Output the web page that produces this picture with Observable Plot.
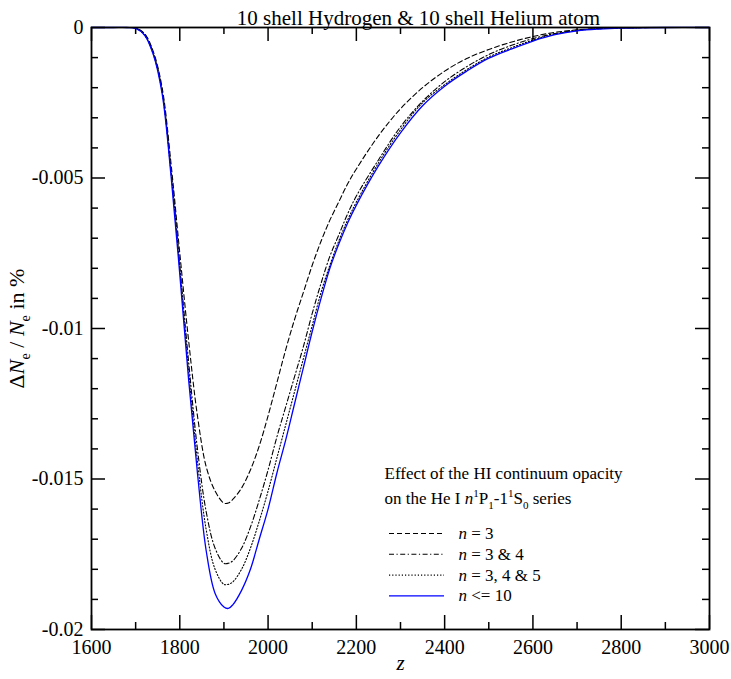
<!DOCTYPE html>
<html><head><meta charset="utf-8">
<script src="https://cdn.jsdelivr.net/npm/d3@7"></script>
<script src="https://cdn.jsdelivr.net/npm/@observablehq/plot@0.6"></script>
<style>body{margin:0;background:#fff;} svg{display:block;} svg text, svg tspan{font-family:'Liberation Serif','Times New Roman',serif !important; font-variant:normal !important;}</style>
</head><body><div id="chart"></div>
<script>
const zValues = [1600,1650,1680,1700,1720,1740,1760,1780,1800,1820,1840,1860,1880,1900,1910,1920,1940,1960,1980,2000,2020,2040,2060,2080,2100,2120,2140,2160,2180,2200,2250,2300,2350,2400,2450,2500,2550,2600,2650,2700,2750,2800,2900,3000];
const n3 = [0,0,0,-0.00002,-0.0002,-0.0008,-0.0020,-0.0045,-0.0075,-0.0104,-0.0129,-0.0146,-0.0154,-0.0158,-0.0158,-0.01568,-0.0153,-0.0147,-0.0139,-0.0129,-0.0118,-0.0107,-0.0097,-0.0088,-0.0079,-0.0071,-0.0064,-0.0058,-0.0052,-0.0047,-0.0036,-0.0027,-0.0020,-0.00145,-0.00103,-0.00073,-0.00049,-0.0003,-0.00016,-0.00008,-0.00003,-0.00001,0,0];
const n34 = [0,0,0,-0.00002,-0.00022,-0.00085,-0.0021,-0.0047,-0.0079,-0.0111,-0.0140,-0.0161,-0.0173,-0.0178,-0.0178,-0.01772,-0.0173,-0.0166,-0.0157,-0.0147,-0.0136,-0.0126,-0.0116,-0.0106,-0.0095,-0.0085,-0.0076,-0.0069,-0.0062,-0.0056,-0.0044,-0.0033,-0.00245,-0.0018,-0.0013,-0.0009,-0.0006,-0.00037,-0.0002,-0.00009,-0.00004,-0.00001,0,0];
const n345 = [0,0,0,-0.00002,-0.00025,-0.00088,-0.00215,-0.0048,-0.0080,-0.0114,-0.0144,-0.0167,-0.0180,-0.0185,-0.0185,-0.01842,-0.0180,-0.0173,-0.0164,-0.0154,-0.0143,-0.0132,-0.0121,-0.0110,-0.0099,-0.0088,-0.0079,-0.0071,-0.0064,-0.0058,-0.0045,-0.0034,-0.0025,-0.0019,-0.0014,-0.00098,-0.00068,-0.00042,-0.00022,-0.0001,-0.00004,-0.00001,0,0];
const n10 = [0,0,0,-0.00003,-0.00025,-0.0009,-0.0022,-0.0049,-0.0082,-0.0117,-0.0148,-0.0174,-0.0188,-0.01925,-0.0193,-0.01918,-0.0187,-0.0180,-0.0170,-0.0160,-0.0148,-0.0137,-0.0125,-0.0113,-0.0101,-0.0090,-0.0080,-0.0072,-0.0065,-0.0059,-0.0046,-0.0035,-0.0026,-0.00195,-0.00145,-0.00102,-0.00072,-0.00045,-0.00024,-0.00011,-0.00005,-0.00002,0,0];
const seriesNames = ["n = 3","n = 3 & 4","n = 3, 4 & 5","n <= 10"];
const xTicks = [1600,1800,2000,2200,2400,2600,2800,3000];
const xMinor = [1700,1900,2100,2300,2500,2700,2900];
const yTicks = [0,-0.005,-0.01,-0.015,-0.02];
const yMinor = [-0.001,-0.002,-0.003,-0.004,-0.006,-0.007,-0.008,-0.009,-0.011,-0.012,-0.013,-0.014,-0.016,-0.017,-0.018,-0.019];
const titleText = "10 shell Hydrogen & 10 shell Helium atom";
const legendHeader1 = "Effect of the HI continuum opacity";
const legendHeader2 = "on the He I n1P1-11S0 series";

const FONT = "'Liberation Serif', 'Times New Roman', serif";
const W = 731, H = 679, mL = 91, mR = 22, mT = 27, mB = 50;
const fw = W - mL - mR, fh = H - mT - mB;
const sx = d3.scaleLinear([1600, 3000], [mL, W - mR]);
const sy = d3.scaleLinear([-0.02, 0], [H - mB, mT]);

const styles = [
  {dash: "5,3", stroke: "#000", width: 1.1},
  {dash: "5,2.5,1.2,2.5", stroke: "#000", width: 1.1},
  {dash: "1.2,2", stroke: "#000", width: 1.1},
  {dash: null, stroke: "#0000ff", width: 1.3}
];
const allSeries = [n3, n34, n345, n10];
const rows = allSeries.map((vals, k) => zValues.map((z, i) => ({z, v: vals[i], s: seriesNames[k]})));

const legendRows = seriesNames.map((s, i) => ({s, y: sy.invert(533 + i * 20.8)}));
const lx1 = sx.invert(389), lx2 = sx.invert(444), ltx = sx.invert(458);

const marks = [
  Plot.axisX(xTicks, {tickSize: 0, tickPadding: 10, tickFormat: d => String(d), label: null, fontSize: 20, fontFamily: FONT, fontVariant: "normal"}),
  Plot.axisY(yTicks, {tickSize: 0, tickPadding: 8, tickFormat: d => d === 0 ? "0" : String(d), label: null, fontSize: 20, fontFamily: FONT, fontVariant: "normal"}),
  Plot.tickX(xTicks, {x: d => d, insetTop: fh - 14, strokeWidth: 1.5}),
  Plot.tickX(xTicks, {x: d => d, insetBottom: fh - 14, strokeWidth: 1.5}),
  Plot.tickX(xMinor, {x: d => d, insetTop: fh - 7, strokeWidth: 1.5}),
  Plot.tickX(xMinor, {x: d => d, insetBottom: fh - 7, strokeWidth: 1.5}),
  Plot.tickY(yTicks, {y: d => d, insetRight: fw - 14, strokeWidth: 1.5}),
  Plot.tickY(yTicks, {y: d => d, insetLeft: fw - 14, strokeWidth: 1.5}),
  Plot.tickY(yMinor, {y: d => d, insetRight: fw - 7, strokeWidth: 1.5}),
  Plot.tickY(yMinor, {y: d => d, insetLeft: fw - 7, strokeWidth: 1.5}),
  ...rows.map((r, k) => Plot.line(r, {x: "z", y: "v", stroke: styles[k].stroke, strokeWidth: styles[k].width, strokeDasharray: styles[k].dash, curve: "catmull-rom"})),
  Plot.frame({strokeWidth: 1.8}),
  ...legendRows.map((r, k) => Plot.ruleY([r], {y: "y", x1: lx1, x2: lx2, stroke: styles[k].stroke, strokeWidth: styles[k].width, strokeDasharray: styles[k].dash})),
  Plot.text(legendRows, {x: ltx, y: "y", text: "s", textAnchor: "start", fontSize: 17, fontFamily: FONT}),
  Plot.text([legendHeader1], {x: sx.invert(384), y: sy.invert(473), text: d => d, textAnchor: "start", fontSize: 17, fontFamily: FONT}),
  Plot.text([legendHeader2], {x: sx.invert(384), y: sy.invert(498), text: d => d, textAnchor: "start", fontSize: 17, fontFamily: FONT}),
  Plot.text([titleText], {frameAnchor: "top", dx: 18, dy: -17, text: d => d, fontSize: 21, fontFamily: FONT}),
  Plot.text(["z"], {frameAnchor: "bottom", dy: 40, text: d => d, fontSize: 21, fontStyle: "italic", fontFamily: FONT}),
  Plot.text(["DNe / Ne in %"], {frameAnchor: "left", textAnchor: "middle", dx: -75, rotate: -90, text: d => d, fontSize: 22, fontFamily: FONT})
];

const chart = Plot.plot({
  width: W, height: H,
  marginLeft: mL, marginRight: mR, marginTop: mT, marginBottom: mB,
  x: {domain: [1600, 3000]},
  y: {domain: [-0.02, 0]},
  style: {fontFamily: FONT, fontSize: "20px", background: "#fff", color: "#000"},
  marks
});
document.getElementById("chart").appendChild(chart);

function rich(match, parts, base) {
  for (const t of chart.querySelectorAll("text")) {
    if (t.textContent !== match) continue;
    while (t.firstChild) t.removeChild(t.firstChild);
    let cur = 0;
    for (const p of parts) {
      const ts = document.createElementNS("http://www.w3.org/2000/svg", "tspan");
      ts.textContent = p.t;
      if (p.i) ts.setAttribute("font-style", "italic");
      let target = 0;
      if (p.sub) target = 0.3 * base;
      if (p.sup) target = -0.42 * base;
      if (p.sub || p.sup) ts.setAttribute("font-size", (0.65 * base) + "px");
      if (target !== cur) ts.setAttribute("dy", (target - cur) + "px");
      cur = target;
      t.appendChild(ts);
    }
  }
}
rich("DNe / Ne in %", [{t: "Δ"}, {t: "N", i: 1}, {t: "e", sub: 1}, {t: " / "}, {t: "N", i: 1}, {t: "e", sub: 1}, {t: " in %"}], 22);
rich(legendHeader2, [{t: "on the He I "}, {t: "n", i: 1}, {t: "1", sup: 1}, {t: "P"}, {t: "1", sub: 1}, {t: "-1"}, {t: "1", sup: 1}, {t: "S"}, {t: "0", sub: 1}, {t: " series"}], 17);
for (const s of seriesNames) rich(s, [{t: "n", i: 1}, {t: s.slice(1)}], 17);
</script>
</body></html>
